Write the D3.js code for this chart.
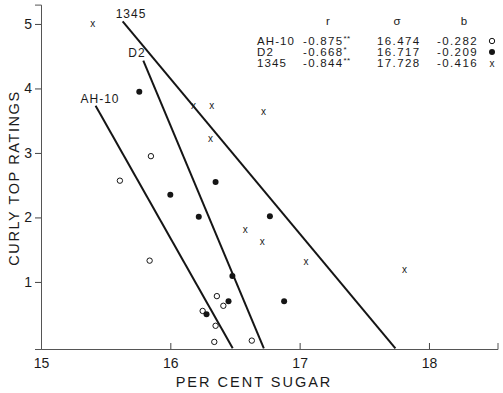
<!DOCTYPE html>
<html>
<head>
<meta charset="utf-8">
<script src="https://cdn.jsdelivr.net/npm/d3@7"></script>
<style>
  html, body { margin: 0; padding: 0; background: #fff; }
  svg text { font-family: "Liberation Sans", "DejaVu Sans", sans-serif; fill: #1a1a1a; }
</style>
</head>
<body>
<svg id="chart" width="503" height="393"></svg>
<script>
// Strains and their regression of sugar on rating: sugar = a + b * rating
const strains = ["AH-10", "D2", "1345"];
const rValues = ["-0.875", "-0.668", "-0.844"];
const rSignif = ["**", "*", "**"];
const intercepts = [16.474, 16.717, 17.728];
const slopes = [-0.282, -0.209, -0.416];
const lineTop = [3.73, 4.43, 5.04];        // rating where each fitted line starts
const markers = ["open", "filled", "cross"];

// Observed points, per strain: per cent sugar and curly top rating
const ah10Sugar  = [15.85, 15.61, 15.84, 16.36, 16.41, 16.25, 16.35, 16.34, 16.63];
const ah10Rating = [2.95, 2.57, 1.33, 0.78, 0.63, 0.55, 0.32, 0.07, 0.09];
const d2Sugar  = [15.76, 16.00, 16.35, 16.22, 16.77, 16.48, 16.45, 16.28, 16.88];
const d2Rating = [3.95, 2.35, 2.55, 2.01, 2.02, 1.09, 0.70, 0.50, 0.70];
const s1345Sugar  = [15.40, 16.18, 16.32, 16.72, 16.31, 16.58, 16.71, 17.05, 17.81];
const s1345Rating = [5.00, 3.74, 3.73, 3.64, 3.22, 1.82, 1.62, 1.31, 1.20];

const xTicks = [15, 16, 17, 18];
const yTicks = [1, 2, 3, 4, 5];

const svg = d3.select("#chart");
const ink = "#151515";

const x = d3.scaleLinear().domain([15, 18.53]).range([41, 497.5]);
const y = d3.scaleLinear().domain([-0.04, 5.3]).range([349, 4.6]);

// Axes
const xAxis = d3.axisBottom(x).tickValues(xTicks).tickSize(-6).tickFormat(d3.format("d")).tickPadding(9);
const gx = svg.append("g").attr("transform", `translate(0,${y(-0.04)})`).call(xAxis);
const yAxis = d3.axisLeft(y).tickValues(yTicks).tickSize(6).tickFormat(d3.format("d")).tickPadding(3);
const gy = svg.append("g").attr("transform", `translate(${x(15)},0)`).call(yAxis);
[gx, gy].forEach(g => {
  g.select(".domain").attr("stroke", "#555").attr("stroke-width", 1);
  g.selectAll(".tick line").attr("stroke", "#444");
  g.selectAll(".tick text").attr("font-size", 14).attr("fill", ink)
    .style("font-family", "Liberation Sans, sans-serif");
});
gx.select(".tick line").attr("stroke-opacity", 0);

svg.append("text").attr("x", 254).attr("y", 387).attr("text-anchor", "middle")
  .attr("font-size", 14.5).attr("letter-spacing", 2).text("PER CENT SUGAR");
svg.append("text").attr("transform", "translate(19,178) rotate(-90)").attr("text-anchor", "middle")
  .attr("font-size", 14.5).attr("letter-spacing", 1.6).text("CURLY TOP RATINGS");

// Fitted regression lines
strains.forEach((s, i) => {
  const a = intercepts[i], b = slopes[i];
  svg.append("line")
    .attr("x1", x(a + b * lineTop[i])).attr("y1", y(lineTop[i]))
    .attr("x2", x(a + b * -0.03)).attr("y2", y(-0.03))
    .attr("stroke", ink).attr("stroke-width", 2);
});

// Labels at the upper end of each line
const labelPos = [[100, 103], [137, 57], [131, 18]];
strains.forEach((s, i) => {
  svg.append("text").attr("x", labelPos[i][0]).attr("y", labelPos[i][1])
    .attr("text-anchor", "middle").attr("font-size", 12).attr("letter-spacing", 1).text(s);
});

// Data points
function drawMarker(g, kind, cx, cy) {
  if (kind === "open") {
    g.append("circle").attr("cx", cx).attr("cy", cy).attr("r", 2.7)
      .attr("fill", "#fff").attr("stroke", ink).attr("stroke-width", 1);
  } else if (kind === "filled") {
    g.append("circle").attr("cx", cx).attr("cy", cy).attr("r", 3)
      .attr("fill", ink);
  } else {
    g.append("text").attr("x", cx).attr("y", cy + 3.5).attr("text-anchor", "middle")
      .attr("font-size", 10).text("x");
  }
}
const series = [[ah10Sugar, ah10Rating], [d2Sugar, d2Rating], [s1345Sugar, s1345Rating]];
const gp = svg.append("g");
series.forEach((sr, i) => {
  sr[0].forEach((sx, j) => drawMarker(gp, markers[i], x(sx), y(sr[1][j])));
});

// Statistics table
const tbl = svg.append("g").attr("font-size", 11.5);
const headerY = 25;
[["r", 328], ["σ", 397], ["b", 464]].forEach(([t, cx]) => {
  tbl.append("text").attr("x", cx).attr("y", headerY).attr("text-anchor", "middle").text(t);
});
const rowY = [45, 56, 67];
strains.forEach((s, i) => {
  tbl.append("text").attr("x", 257).attr("y", rowY[i]).attr("letter-spacing", 1.1).text(s);
  const rt = tbl.append("text").attr("x", 303).attr("y", rowY[i]).attr("letter-spacing", 1.3);
  rt.append("tspan").text(rValues[i]);
  rt.append("tspan").attr("font-size", 8).attr("dy", -4).attr("letter-spacing", 0.5).text(rSignif[i]);
  tbl.append("text").attr("x", 377).attr("y", rowY[i]).attr("letter-spacing", 1.4)
    .text(d3.format(".3f")(intercepts[i]));
  tbl.append("text").attr("x", 437).attr("y", rowY[i]).attr("letter-spacing", 1.4)
    .text(d3.format(".3f")(slopes[i]).replace("−", "-"));
  drawMarker(tbl, markers[i], 492, rowY[i] - 4);
});
</script>
</body>
</html>
